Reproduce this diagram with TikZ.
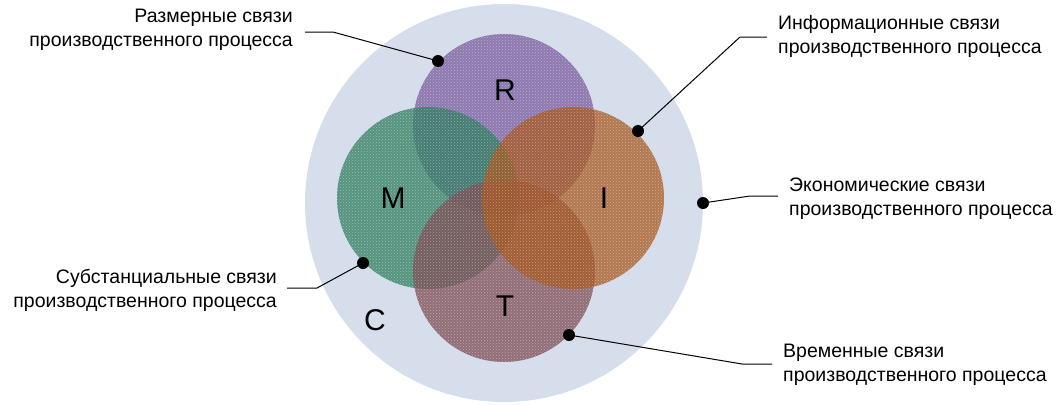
\documentclass[tikz,border=0pt]{standalone}
\usepackage{fontspec}
\setmainfont{Liberation Sans}
\usetikzlibrary{patterns}

\definecolor{ringbg}{HTML}{D5DEEA}
\definecolor{colR}{HTML}{7A5A9E}
\definecolor{colM}{HTML}{2F7D5F}
\definecolor{colI}{HTML}{A85820}
\definecolor{colT}{HTML}{7E4C54}

\tikzset{
  setdisc/.style={fill=#1, fill opacity=0.76},
  settexture/.style={pattern=crosshatch dots, pattern color=white, fill opacity=0.4},
  letter/.style={font=\fontsize{30}{30}\selectfont, inner sep=0pt},
  caption/.style={font=\fontsize{19.5}{24}\selectfont, inner sep=0pt},
  marker/.style={circle, fill=black, inner sep=0pt, minimum size=12pt},
  leader/.style={draw=black, line width=1pt},
}

\begin{document}
\begin{tikzpicture}[x=1pt, y=-1pt]
\useasboundingbox (0,0) rectangle (1060,405);

% outer field C
\fill[ringbg] (504,203) circle (199);

% four overlapping translucent sets
\fill[setdisc=colR] (504,125) circle (91);
\fill[setdisc=colM] (428,198) circle (91);
\fill[setdisc=colT] (504,271) circle (91);
\fill[setdisc=colI] (573,198) circle (91);

% one light dotted texture over the union of the sets
\fill[settexture, nonzero rule]
  (504,125) circle (91) (428,198) circle (91)
  (504,271) circle (91) (573,198) circle (91);

% set letters
\node[letter] (R) at (505,90) {R};
\node[letter] (M) at (393,198) {M};
\node[letter] (I) at (604,198) {I};
\node[letter] (T) at (505,306) {T};
\node[letter] (C) at (375,320) {C};

% markers on the circle edges
\node[marker] (dR) at (438,61) {};
\node[marker] (dI) at (638,131) {};
\node[marker] (dC) at (703,203) {};
\node[marker] (dM) at (363,263) {};
\node[marker] (dT) at (569,335) {};

% captions
\node[caption, anchor=east, align=right] (tR) at (293,30)
  {Размерные связи\\производственного процесса};
\node[caption, anchor=west, align=left] (tI) at (778,36)
  {Информационные связи\\производственного процесса};
\node[caption, anchor=west, align=left] (tC) at (789,199)
  {Экономические связи\\производственного процесса};
\node[caption, anchor=east, align=right] (tM) at (277,290)
  {Субстанциальные связи\\производственного процесса};
\node[caption, anchor=west, align=left] (tT) at (783,365)
  {Временные связи\\производственного процесса};

% leader line bends
\coordinate (aR) at (305,32);  \coordinate (bR) at (333,32);
\coordinate (aI) at (767,37);  \coordinate (bI) at (740,37);
\coordinate (aC) at (778,196); \coordinate (bC) at (750,196);
\coordinate (aM) at (287,288); \coordinate (bM) at (317,288);
\coordinate (aT) at (772,364); \coordinate (bT) at (742,364);

\draw[leader] (aR) -- (bR) -- (dR.center);
\draw[leader] (aI) -- (bI) -- (dI.center);
\draw[leader] (aC) -- (bC) -- (dC.center);
\draw[leader] (aM) -- (bM) -- (dM.center);
\draw[leader] (aT) -- (bT) -- (dT.center);
\end{tikzpicture}
\end{document}
